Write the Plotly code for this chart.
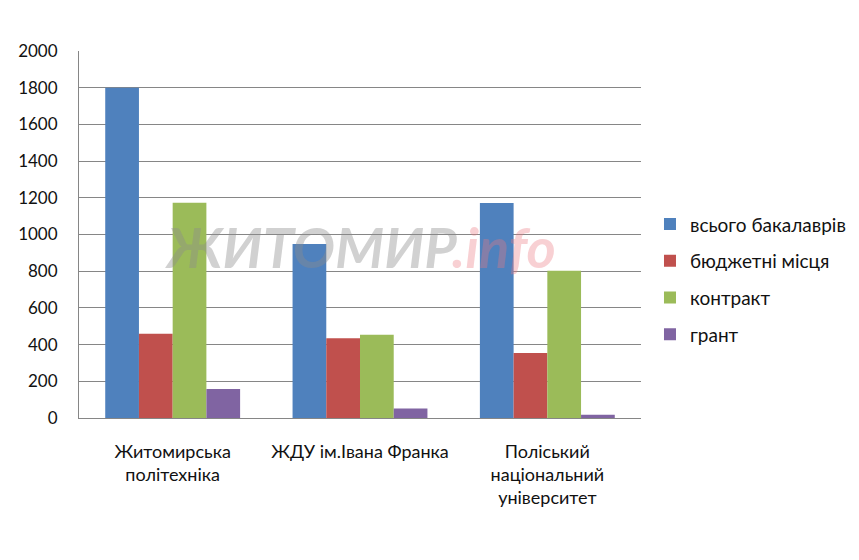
import plotly.graph_objects as go

categories = ["Житомирська<br>політехніка", "ЖДУ ім.Івана Франка", "Поліський<br>національний<br>університет"]
series_names = ["всього бакалаврів", "бюджетні місця", "контракт", "грант"]
vals_total = [1800, 948, 1172]
vals_budget = [459, 435, 354]
vals_contract = [1173, 453, 802]
vals_grant = [158, 52, 18]
colors = ["#4F81BD", "#C0504D", "#9BBB59", "#8064A2"]
y_ticks = [0, 200, 400, 600, 800, 1000, 1200, 1400, 1600, 1800, 2000]

font = "Lato, 'Open Sans', sans-serif"
fig = go.Figure()
for i, (name, vals) in enumerate(zip(series_names, [vals_total, vals_budget, vals_contract, vals_grant])):
    fig.add_trace(go.Bar(x=categories, y=vals, name=name, marker_color=colors[i],
                         marker_line_width=0, legendgroup=str(i)))

fig.update_layout(
    width=851, height=552,
    margin=dict(l=71, r=218, t=43, b=142, autoexpand=False),
    paper_bgcolor="white", plot_bgcolor="white",
    barmode="group", bargap=0.28, bargroupgap=0,
    font=dict(family=font, size=17, color="#111"),
    showlegend=True,
    legend=dict(x=1.016, y=0.378, xanchor="left", yanchor="middle",
                font=dict(size=19, family=font, color="#111"),
                tracegroupgap=9, itemwidth=30, bgcolor="rgba(0,0,0,0)"),
    xaxis=dict(showline=True, linecolor="#868686", linewidth=1, ticks="", showgrid=False,
               tickfont=dict(size=18), ticklabelstandoff=17, automargin=False),
    yaxis=dict(range=[0, 2000], tickvals=y_ticks, showgrid=True, gridcolor="#868686", gridwidth=1,
               showline=True, linecolor="#868686", zeroline=False, ticks="",
               tickfont=dict(size=17), ticklabelstandoff=17, automargin=False),
)
fig.add_annotation(text="<b><i><span style='color:rgba(140,140,140,0.4)'>ЖИТОМИР</span>"
                        "<span style='color:rgba(235,120,130,0.35)'>.info</span></i></b>",
                   x=0.5, y=0.466, xref="paper", yref="paper",
                   showarrow=False, font=dict(size=56, family=font))
fig.write_html("out.html")
